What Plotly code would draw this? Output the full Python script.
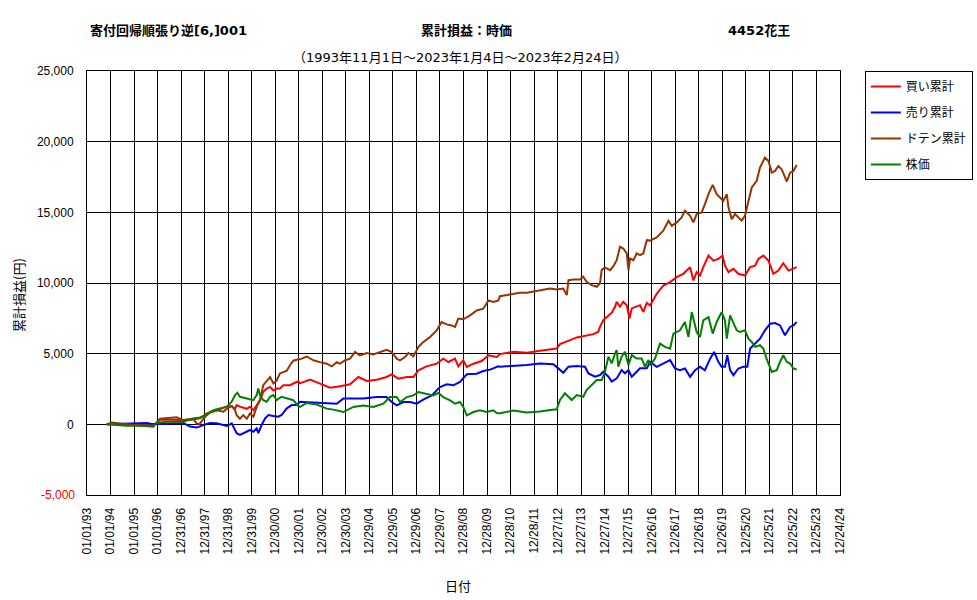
import pandas as pd
import plotly.graph_objects as go

# ---------------- data (time in decimal years, values in yen) ----------------
buy_t = [1993.84, 1994.97, 1995.82, 1995.96, 1996.10, 1996.95, 1997.38, 1997.80, 1998.09, 1998.37,
         1998.65, 1998.94, 1999.15, 1999.29, 1999.36, 1999.50, 1999.79, 1999.93, 2000.07, 2000.21,
         2000.35, 2000.49, 2000.64, 2000.78, 2000.92, 2001.06, 2001.20, 2001.34, 2001.49, 2001.63,
         2001.77, 2001.98,
         2002.05, 2002.48, 2002.90, 2003.33, 2003.75, 2004.18, 2004.53, 2004.89, 2005.31, 2005.73,
         2005.95, 2006.23, 2006.59, 2006.87, 2007.08, 2007.43, 2007.86, 2008.14, 2008.36, 2008.64,
         2008.78, 2008.99, 2009.14, 2009.42, 2009.77, 2010.06, 2010.41,
         2010.55, 2011.12, 2011.69, 2012.25, 2012.68, 2012.96, 2013.10, 2013.39, 2013.53, 2013.81,
         2014.23, 2014.52, 2014.73, 2014.80, 2014.94, 2015.16, 2015.30, 2015.44, 2015.51, 2015.65,
         2015.79, 2015.94, 2016.05, 2016.15, 2016.36, 2016.50, 2016.64, 2016.79,
         2016.93, 2017.21, 2017.49, 2017.78, 2018.06, 2018.34, 2018.63, 2018.77, 2018.91, 2019.05,
         2019.19, 2019.41, 2019.62, 2019.83, 2020.01, 2020.11, 2020.26, 2020.47, 2020.68, 2020.96,
         2021.18, 2021.39, 2021.53, 2021.74, 2021.96, 2022.17, 2022.38, 2022.59, 2022.81, 2023.02,
         2023.16]
buy_v = [0, 0, 0, 100, 350, 300, 300, 420, 770, 900,
         1100, 1250, 1290, 1100, 1360, 1250, 1100, 1250, 1000, 1360,
         1700, 2300, 2530, 2650, 2400, 2530, 2530, 2770, 2770, 2770,
         2890, 3050,
         2900, 3160, 2880, 2590, 2690, 2830, 3350, 3070, 3160, 3350,
         3540, 3230, 3350, 3350, 3820, 4100, 4290, 4650, 4410, 4650,
         4100, 4530, 4060, 4290, 4480, 4880, 4770,
         4970, 5140, 5070, 5210, 5300, 5370, 5680, 5840, 5960, 6150,
         6310, 6380, 6550, 6900, 7370, 7730, 7900, 8320, 8670, 8320,
         8670, 8430, 7490, 8200, 8320, 8430, 7960, 8600,
         8410, 9240, 9820, 10060, 10410, 10650, 11120, 10180, 10770, 10530,
         11120, 11940, 11580, 11700, 11940, 11230, 10770, 11000, 10650, 10530,
         11120, 11230, 11700, 11940, 11580, 10650, 10880, 11400, 10880, 11000,
         11120]

sell_t = [1993.84, 1994.97, 1995.54, 1995.82, 1996.39, 1997.09, 1997.38, 1997.66, 1997.95, 1998.23,
          1998.51, 1998.80, 1998.94, 1999.15, 1999.36, 1999.50, 1999.64, 1999.79, 1999.93, 2000.07,
          2000.21, 2000.28, 2000.42, 2000.57, 2000.71, 2000.92, 2001.13, 2001.27, 2001.49, 2001.70,
          2001.91,
          2002.05, 2002.34, 2002.76, 2003.33, 2003.61, 2003.89, 2004.32, 2004.74, 2005.31, 2005.73,
          2005.95, 2006.16, 2006.44, 2006.73, 2007.01, 2007.29, 2007.65, 2008.00, 2008.29, 2008.57,
          2008.85, 2009.14, 2009.56, 2009.84, 2010.13, 2010.48,
          2010.55, 2011.12, 2011.69, 2012.25, 2012.82, 2013.03, 2013.24, 2013.46, 2013.81, 2014.16,
          2014.31, 2014.59, 2014.80, 2014.94, 2015.16, 2015.30, 2015.51, 2015.72, 2015.86, 2016.01,
          2016.15, 2016.36, 2016.50, 2016.79,
          2016.93, 2017.21, 2017.49, 2017.78, 2017.99, 2018.20, 2018.41, 2018.63, 2018.84, 2019.05,
          2019.26, 2019.48, 2019.65, 2019.83, 2019.97, 2020.11, 2020.21, 2020.33, 2020.47, 2020.68,
          2020.89, 2021.06, 2021.18, 2021.39, 2021.60, 2021.81, 2022.03, 2022.24, 2022.45, 2022.66,
          2022.88, 2023.02, 2023.16]
sell_v = [0, 100, 100, 0, 50, 100, -160, -230, -50, 100,
          70, -50, -120, 70, -630, -750, -630, -520, -400, -520,
          -280, -630, -50, 420, 660, 590, 540, 660, 1130, 1360,
          1360,
          1600, 1580, 1510, 1510, 1460, 1820, 1820, 1820, 1930, 1930,
          1580, 1340, 1580, 1580, 1460, 1750, 2050, 2640, 2830, 2760,
          3000, 3540, 3580, 3770, 3870, 4100,
          4080, 4130, 4190, 4310, 4260, 3960, 3650, 4080, 4130, 4080,
          3600, 3370, 3490, 3720, 3370, 3020, 3250, 3840, 3610, 3840,
          3370, 3720, 3960, 3960,
          4420, 4070, 4300, 4540, 3950, 3830, 3950, 3360, 3830, 4070,
          3830, 4650, 5120, 4420, 4070, 4070, 4890, 3830, 3480, 3950,
          4070, 4070, 5360, 5710, 6060, 6650, 7120, 7170, 7000, 6300,
          6890, 7000, 7240]

doten_t = [1993.84, 1994.05, 1994.97, 1995.54, 1995.82, 1995.96, 1996.10, 1996.81, 1997.09, 1997.52,
           1997.66, 1997.80, 1997.95, 1998.23, 1998.51, 1998.80, 1998.94, 1999.15, 1999.29, 1999.36,
           1999.50, 1999.64, 1999.79, 1999.93, 2000.07, 2000.21, 2000.35, 2000.49, 2000.64, 2000.78,
           2000.92, 2001.06, 2001.20, 2001.49, 2001.63, 2001.77, 2001.98,
           2002.05, 2002.34, 2002.48, 2002.62, 2002.90, 2003.19, 2003.40, 2003.61, 2003.75, 2003.96,
           2004.18, 2004.39, 2004.60, 2004.89, 2005.17, 2005.45, 2005.73, 2005.95, 2006.16, 2006.30,
           2006.51, 2006.66, 2006.87, 2007.08, 2007.29, 2007.58, 2007.86, 2008.07, 2008.29, 2008.50,
           2008.64, 2008.78, 2008.99, 2009.28, 2009.56, 2009.84, 2010.06, 2010.27, 2010.48,
           2010.55, 2010.84, 2011.12, 2011.40, 2011.69, 2011.97, 2012.25, 2012.68, 2012.96, 2013.24,
           2013.39, 2013.46, 2013.67, 2013.95, 2014.09, 2014.23, 2014.45, 2014.66, 2014.80, 2014.87,
           2015.01, 2015.23, 2015.37, 2015.51, 2015.65, 2015.79, 2015.94, 2016.01, 2016.08, 2016.22,
           2016.36, 2016.50, 2016.64, 2016.79,
           2016.93, 2017.21, 2017.49, 2017.71, 2017.85, 2018.06, 2018.27, 2018.41, 2018.63, 2018.77,
           2018.91, 2019.12, 2019.26, 2019.41, 2019.59, 2019.76, 2019.90, 2020.04, 2020.19, 2020.26,
           2020.40, 2020.54, 2020.68, 2020.82, 2020.96, 2021.11, 2021.25, 2021.46, 2021.60, 2021.81,
           2021.96, 2022.10, 2022.24, 2022.38, 2022.52, 2022.74, 2022.88, 2023.02, 2023.16]
doten_v = [0, 120, -50, -100, -160, 100, 400, 500, 300, 400,
           50, 50, 400, 900, 1000, 900, 1100, 1300, 1000, 650,
           400, 650, 400, 770, 540, 1240, 1700, 2770, 3100, 3350,
           2900, 3100, 3600, 3800, 4200, 4500, 4600,
           4600, 4800, 4650, 4530, 4400, 4290, 4100, 4400, 4290, 4530,
           4650, 5120, 4880, 5050, 4950, 5120, 5280, 5120, 4650, 4530,
           4760, 5050, 4810, 5470, 5820, 6180, 6650, 7240, 7070, 7000,
           6890, 7480, 7430, 7710, 8060, 8180, 8770, 8660, 8770,
           9070, 9140, 9210, 9310, 9310, 9380, 9490, 9610, 9540, 9610,
           9140, 10200, 10250, 10250, 10440, 10080, 9850, 9730, 9960, 10910,
           11100, 10910, 11190, 11610, 12560, 12440, 12090, 10910, 11730, 11610,
           12090, 11970, 12090, 13030,
           13000, 13230, 13700, 14400, 14050, 14290, 14640, 15110, 14760, 14290,
           14880, 15000, 15580, 16290, 16940, 16290, 16050, 15820, 16290, 15350,
           14520, 14880, 14640, 14410, 14760, 15820, 16760, 17230, 18170, 18870,
           18640, 17810, 17930, 18280, 18050, 17180, 17810, 17930, 18350]

stock_t = [1993.84, 1994.69, 1995.82, 1995.96, 1996.39, 1997.09, 1997.52, 1997.80, 1998.09, 1998.37,
           1998.65, 1998.94, 1999.15, 1999.29, 1999.39, 1999.50, 1999.79, 2000.07, 2000.21, 2000.28,
           2000.35, 2000.49, 2000.64, 2000.78, 2000.92, 2001.06, 2001.27, 2001.49, 2001.77, 2001.98,
           2002.05, 2002.34, 2002.76, 2003.19, 2003.47, 2003.89, 2004.32, 2004.74, 2005.17, 2005.59,
           2005.88, 2006.16, 2006.30, 2006.59, 2006.87, 2007.08, 2007.36, 2007.72, 2007.93, 2008.14,
           2008.43, 2008.64, 2008.85, 2008.99, 2009.14, 2009.42, 2009.70, 2009.99, 2010.27, 2010.41,
           2010.55, 2011.12, 2011.69, 2012.25, 2012.68, 2012.96, 2013.10, 2013.31, 2013.46, 2013.60,
           2013.81, 2014.09, 2014.23, 2014.45, 2014.66, 2014.87, 2015.01, 2015.16, 2015.30, 2015.44,
           2015.51, 2015.58, 2015.72, 2015.86, 2016.01, 2016.15, 2016.36, 2016.57, 2016.71, 2016.86,
           2016.93, 2017.14, 2017.35, 2017.56, 2017.78, 2017.92, 2018.20, 2018.41, 2018.56, 2018.70,
           2018.91, 2019.05, 2019.19, 2019.41, 2019.59, 2019.76, 2019.97, 2020.11, 2020.19, 2020.33,
           2020.47, 2020.61, 2020.75, 2020.96, 2021.11, 2021.25, 2021.39, 2021.60, 2021.74, 2021.88,
           2022.10, 2022.31, 2022.45, 2022.59, 2022.74, 2022.88, 2023.02, 2023.16]
stock_v = [0, -100, -100, 120, 190, 190, 420, 490, 660, 1000,
           1130, 1250, 1600, 2070, 2230, 1950, 1830, 1710, 2070, 2530,
           2070, 1710, 1600, 1950, 2070, 1710, 1950, 1830, 1710, 1290,
           1230, 1510, 1400, 1110, 1040, 870, 1230, 1340, 1230, 1460,
           1930, 1930, 1580, 1930, 2050, 2290, 2170, 2050, 2220, 1930,
           1700, 1460, 1580, 1230, 640, 870, 990, 870, 990, 800,
           780, 970, 830, 900, 1010, 1060, 1720, 2190, 1950, 1720,
           2070, 1950, 2430, 2780, 3130, 3130, 3720, 4780, 4310, 5020,
           5250, 4080, 4780, 5140, 4200, 4900, 4660, 4660, 4080, 4550,
           4180, 4650, 5710, 5480, 5360, 6420, 6650, 7240, 6180, 7940,
           6530, 6180, 7360, 7590, 6420, 7240, 7940, 7360, 6060, 7710,
           7240, 6650, 6530, 6650, 6060, 5830, 5480, 5600, 5360, 4650,
           3710, 3830, 4420, 4890, 4420, 4300, 3950, 3880]

series_names = ["買い累計", "売り累計", "ドテン累計", "株価"]
series_colors = ["#FF0000", "#0000FF", "#993300", "#008000"]

x_tick_labels = ["01/01/93", "01/01/94", "01/01/95", "01/01/96", "12/31/96", "12/31/97", "12/31/98",
                 "12/31/99", "12/30/00", "12/30/01", "12/30/02", "12/30/03", "12/29/04", "12/29/05",
                 "12/29/06", "12/29/07", "12/28/08", "12/28/09", "12/28/10", "12/28/11", "12/27/12",
                 "12/27/13", "12/27/14", "12/27/15", "12/26/16", "12/26/17", "12/26/18", "12/26/19",
                 "12/25/20", "12/25/21", "12/25/22", "12/25/23", "12/24/24"]
y_tick_vals = [-5000, 0, 5000, 10000, 15000, 20000, 25000]
y_tick_labels = ["-5,000", "0", "5,000", "10,000", "15,000", "20,000", "25,000"]

title_left = "寄付回帰順張り逆[6,]001"
title_mid = "累計損益：時価"
title_right = "4452花王"
subtitle = "（1993年11月1日～2023年1月4日～2023年2月24日）"
y_title = "累計損益(円)"
x_title = "日付"

# ---------------- helpers ----------------
BASE = pd.Timestamp("1993-01-01")


def to_dates(ts):
    return [BASE + pd.Timedelta(days=(t - 1993.0) * 365.0) for t in ts]


x_tick_vals = [BASE + pd.Timedelta(days=365 * i) for i in range(len(x_tick_labels))]

JP = "Noto Sans CJK JP"
TITLE_FONT = "DejaVu Sans, Noto Sans CJK JP"
NUM = "Liberation Sans, Noto Sans CJK JP"

PL, PR, PT, PB = 87, 840, 71, 495


def px_x(x):
    return (x - PL) / (PR - PL)


def px_y(y):
    return (PB - y) / (PB - PT)


fig = go.Figure()
all_series = [(buy_t, buy_v), (sell_t, sell_v), (doten_t, doten_v), (stock_t, stock_v)]
for i, ((ts, vs), name, col) in enumerate(zip(all_series, series_names, series_colors)):
    fig.add_trace(go.Scatter(x=to_dates(ts), y=vs, mode="lines", name=name,
                             legendgroup=str(i),
                             line=dict(color=col, width=2)))

# negative tick label drawn in red (as in the reference); others via the axis
neg_labels = [(v, t) for v, t in zip(y_tick_vals, y_tick_labels) if v < 0]
axis_ticktext = ["" if v < 0 else t for v, t in zip(y_tick_vals, y_tick_labels)]

annotations = [
    dict(text=title_left, x=px_x(88), y=px_y(30), xanchor="left",
         font=dict(family=TITLE_FONT, size=13, color="black", weight="bold")),
    dict(text=title_mid, x=px_x(466), y=px_y(30), xanchor="center",
         font=dict(family=TITLE_FONT, size=13, color="black", weight="bold")),
    dict(text=title_right, x=px_x(759), y=px_y(30), xanchor="center",
         font=dict(family=TITLE_FONT, size=13, color="black", weight="bold")),
    dict(text=subtitle, x=px_x(460), y=px_y(57), xanchor="center",
         font=dict(family=TITLE_FONT, size=13, color="black")),
    dict(text=y_title, x=px_x(18), y=px_y(295), xanchor="center", textangle=-90,
         font=dict(family=JP, size=13, color="black")),
    dict(text=x_title, x=px_x(458), y=px_y(585), xanchor="center",
         font=dict(family=JP, size=13, color="black")),
]
for a in annotations:
    a.update(xref="paper", yref="paper", showarrow=False, yanchor="middle")
for v, t in neg_labels:
    annotations.append(dict(text=t, x=px_x(77), y=v, xref="paper", yref="y",
                            xanchor="right", yanchor="middle", showarrow=False,
                            font=dict(family=NUM, size=12, color="#FF0000")))

fig.update_layout(
    width=977, height=600,
    margin=dict(l=PL, r=977 - PR, t=PT, b=600 - PB, autoexpand=False),
    paper_bgcolor="white", plot_bgcolor="white",
    showlegend=True,
    legend=dict(x=1.033, y=1.0, xanchor="left", yanchor="top",
                bordercolor="black", borderwidth=1, bgcolor="white",
                font=dict(family=JP, size=12, color="black"),
                traceorder="grouped", tracegroupgap=7, itemwidth=30),
    xaxis=dict(type="date", range=[x_tick_vals[0], x_tick_vals[-1]],
               tickmode="array", tickvals=x_tick_vals, ticktext=x_tick_labels,
               tickangle=-90, tickfont=dict(family=NUM, size=12, color="black"),
               showgrid=True, gridcolor="black", gridwidth=1,
               showline=True, linecolor="black", linewidth=1, mirror=True,
               ticks="", ticklabelstandoff=7, zeroline=False),
    yaxis=dict(range=[-5000, 25000], tickmode="array", tickvals=y_tick_vals,
               ticktext=axis_ticktext, tickfont=dict(family=NUM, size=12, color="black"),
               showgrid=True, gridcolor="black", gridwidth=1,
               zeroline=True, zerolinecolor="black", zerolinewidth=1,
               showline=True, linecolor="black", linewidth=1, mirror=True,
               ticks="", ticklabelstandoff=10),
    annotations=annotations,
)

fig.write_html("out.html")
